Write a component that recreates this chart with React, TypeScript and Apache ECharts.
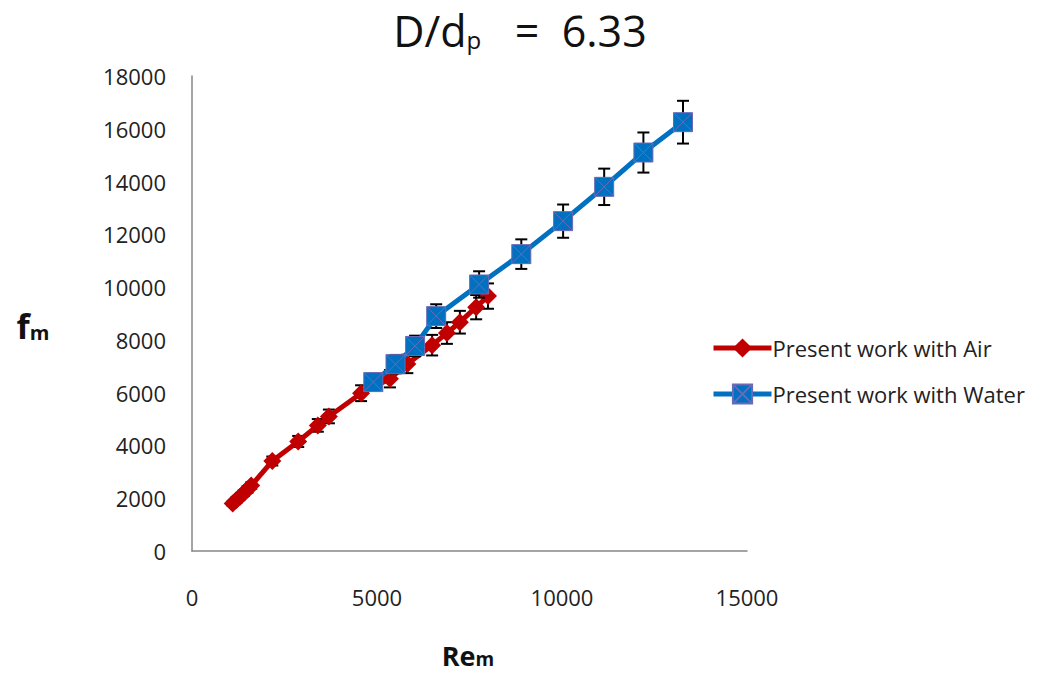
import React, { useEffect, useRef } from "react";
import * as echarts from "echarts";

// Re_m and f_m readings for the air runs
const airRe = [1100, 1200, 1300, 1400, 1500, 1600, 2170, 2870, 3400, 3700, 4570, 5350, 5820, 6490, 6890, 7240, 7680, 8000];
const airF = [1800, 1930, 2060, 2200, 2330, 2480, 3410, 4150, 4760, 5100, 5980, 6530, 7090, 7800, 8260, 8670, 9240, 9660];
const airErr = [90, 100, 100, 110, 120, 120, 170, 210, 240, 260, 300, 330, 350, 390, 410, 430, 460, 480];

// Re_m and f_m readings for the water runs
const waterRe = [4900, 5500, 6030, 6600, 7760, 8900, 10030, 11140, 12200, 13270];
const waterF = [6400, 7080, 7770, 8900, 10100, 11250, 12500, 13800, 15100, 16250];
const waterErr = [320, 350, 390, 450, 500, 560, 630, 690, 760, 810];

const xTicks = [0, 5000, 10000, 15000];
const yTicks = [0, 2000, 4000, 6000, 8000, 10000, 12000, 14000, 16000, 18000];

const seriesNames = ["Present work with Air", "Present work with Water"];

const FONT = "'Open Sans', 'Noto Sans', sans-serif";
const RED = "#C00000";
const BLUE = "#0070C0";

const zip = (xs: number[], ys: number[]) => xs.map((x, i) => [x, ys[i]]);
const zip3 = (xs: number[], ys: number[], es: number[]) => xs.map((x, i) => [x, ys[i], es[i]]);

// vertical error bar with caps, drawn through the axis scales
const errorBarItem = (params: any, api: any) => {
  const x = api.value(0);
  const y = api.value(1);
  const e = api.value(2);
  const top = api.coord([x, y + e]);
  const bot = api.coord([x, y - e]);
  const cap = 6;
  const style = { stroke: "#000", lineWidth: 2 };
  return {
    type: "group",
    children: [
      { type: "line", shape: { x1: top[0], y1: top[1], x2: bot[0], y2: bot[1] }, style },
      { type: "line", shape: { x1: top[0] - cap, y1: top[1], x2: top[0] + cap, y2: top[1] }, style },
      { type: "line", shape: { x1: bot[0] - cap, y1: bot[1], x2: bot[0] + cap, y2: bot[1] }, style },
    ],
  };
};

const squareX = "path://M0,0 L10,0 L10,10 L0,10 Z M0,0 L10,10 M10,0 L0,10";

// text with a lowered, smaller trailing part (subscript)
const subText = (x: number, y: number, main: string, sub: string, rest: string, size: number, subSize: number, weight: string) => ({
  type: "text",
  x,
  y,
  style: {
    text: `{a|${main}}{s|${sub}}` + (rest ? `{a|${rest}}` : ""),
    align: "center",
    verticalAlign: "middle",
    rich: {
      a: { fontFamily: FONT, fontSize: size, fontWeight: weight, fill: "#111", verticalAlign: "bottom", lineHeight: size * 1.1 },
      s: { fontFamily: FONT, fontSize: subSize, fontWeight: weight, fill: "#111", verticalAlign: "bottom", lineHeight: size * 1.0 },
    },
  },
});

export default function App() {
  const ref = useRef<HTMLDivElement>(null);

  useEffect(() => {
    if (!ref.current) return;
    const chart = echarts.init(ref.current, undefined, { renderer: "svg" });
    const option: any = {
      animation: false,
      backgroundColor: "#fff",
      graphic: [
        subText(520, 28, "D/d", "p", "   =  6.33", 43, 24, "normal"),
        subText(468, 654, "Re", "m", "", 27, 19, "bold"),
        subText(33, 324, "f", "m", "", 34, 20, "bold"),
      ],
      grid: { left: 192, right: 299, top: 76, bottom: 122, containLabel: false, outerBoundsMode: "none" },
      xAxis: {
        type: "value",
        min: xTicks[0],
        max: xTicks[xTicks.length - 1],
        interval: xTicks[1] - xTicks[0],
        axisLine: { show: true, lineStyle: { color: "#868686", width: 1.5 } },
        axisTick: { show: false },
        splitLine: { show: false },
        axisLabel: { fontFamily: FONT, fontSize: 22, color: "#222", margin: 35, formatter: (v: number) => String(v) },
      },
      yAxis: {
        type: "value",
        min: yTicks[0],
        max: yTicks[yTicks.length - 1],
        interval: yTicks[1] - yTicks[0],
        axisLine: { show: true, lineStyle: { color: "#868686", width: 1.5 } },
        axisTick: { show: false },
        splitLine: { show: false },
        axisLabel: { fontFamily: FONT, fontSize: 22, color: "#222", margin: 26, formatter: (v: number) => String(v) },
      },
      legend: {
        data: seriesNames,
        orient: "vertical",
        left: 706,
        top: 332,
        itemWidth: 58,
        itemHeight: 24,
        itemGap: 24,
        lineStyle: { width: 5 },
        textStyle: { fontFamily: FONT, fontSize: 22, color: "#222", padding: [0, 0, 0, -4] },
      },
      series: [
        {
          type: "custom",
          name: "airErr",
          renderItem: errorBarItem,
          data: zip3(airRe, airF, airErr),
          z: 1,
          silent: true,
        },
        {
          name: seriesNames[0],
          type: "line",
          data: zip(airRe, airF),
          symbol: "diamond",
          symbolSize: 18,
          showAllSymbol: true,
          lineStyle: { color: RED, width: 5 },
          itemStyle: { color: RED },
          z: 2,
        },
        {
          type: "custom",
          name: "waterErr",
          renderItem: errorBarItem,
          data: zip3(waterRe, waterF, waterErr),
          z: 3,
          silent: true,
        },
        {
          name: seriesNames[1],
          type: "line",
          data: zip(waterRe, waterF),
          symbol: squareX,
          symbolSize: 19,
          showAllSymbol: true,
          lineStyle: { color: BLUE, width: 5 },
          itemStyle: { color: BLUE, borderColor: "#6a6ab8", borderWidth: 1 },
          z: 4,
        },
      ],
    };
    chart.setOption(option);
    return () => chart.dispose();
  }, []);

  return <div ref={ref} style={{ width: 1046, height: 673, position: "absolute", left: 0, top: 0 }} />;
}
